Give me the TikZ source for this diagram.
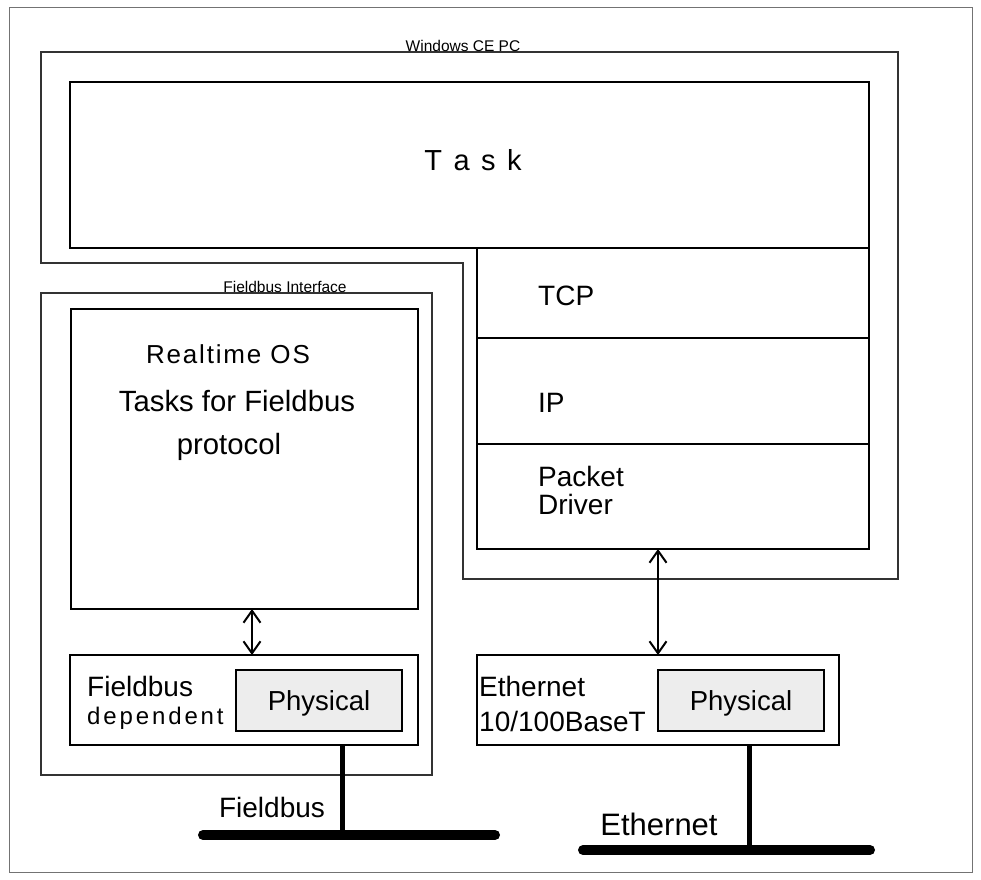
\documentclass[tikz,border=0pt]{standalone}
\usepackage{fontspec}
\setmainfont{Liberation Sans}
\usetikzlibrary{arrows.meta}
\begin{document}
\begin{tikzpicture}[x=1pt,y=-1pt,
  outline/.style={draw=black!55, line width=1pt},
  frame/.style={draw=black!80, line width=1.2pt},
  layer/.style={draw=black, line width=2pt, anchor=north west, inner sep=0pt, outer sep=0pt},
  physbox/.style={layer, fill=black!7},
  lbl/.style={inner sep=0pt, anchor=base, font=\fontsize{28}{28}\selectfont},
  lbll/.style={lbl, anchor=base west},
  small/.style={inner sep=0pt, anchor=base, font=\fontsize{15.5}{16}\selectfont},
  bus/.style={line width=10pt, line cap=round},
  tap/.style={line width=5pt},
  barb/.tip={Straight Barb[length=12pt,width=17pt,line width=2pt]},
  link/.style={line width=1.1pt, {barb}-{barb}}
]
\useasboundingbox (0,0) rectangle (981,879);

% page frame
\draw[outline] (9,7) rectangle (972,872);

% Windows CE PC enclosure
\draw[frame] (41,52) -- (898,52) -- (898,579) -- (463,579) -- (463,263) -- (41,263) -- cycle;
\node[small] (cepc) at (463,51) {Windows CE PC};

% Task and protocol stack
\node[layer, minimum width=799pt, minimum height=166pt] (task) at (70,82) {};
\node[lbl, font=\fontsize{29}{29}\selectfont\addfontfeatures{LetterSpace=12}] (tasktxt) at (473,170) {T a s k};
\node[layer, minimum width=392pt, minimum height=90pt] (tcp) at (477,248) {};
\node[layer, minimum width=392pt, minimum height=106pt] (ip) at (477,338) {};
\node[layer, minimum width=392pt, minimum height=105pt] (pkt) at (477,444) {};
\node[lbll] (tcptxt) at (538,305) {TCP};
\node[lbll] (iptxt) at (538,412) {IP};
\node[lbll] (pkttxt) at (538,486) {Packet};
\node[lbll] (drvtxt) at (538,514) {Driver};

% Fieldbus interface enclosure
\draw[frame] (41,293) rectangle (432,775);
\node[small] (fbif) at (285,292) {Fieldbus Interface};
\node[layer, line width=2.5pt, minimum width=347pt, minimum height=300pt] (rtos) at (71,309) {};
\node[lbl, font=\fontsize{26}{26}\selectfont\addfontfeatures{LetterSpace=7}] (rtostxt) at (228,363) {Realtime OS};
\node[lbl, font=\fontsize{29.3}{29}\selectfont] (tasks1) at (237,411) {Tasks for Fieldbus};
\node[lbl, font=\fontsize{29.3}{29}\selectfont] (tasks2) at (229,454) {protocol};

% Fieldbus dependent layer
\node[layer, minimum width=348pt, minimum height=90pt] (fbdep) at (70,655) {};
\node[physbox, minimum width=166pt, minimum height=61pt] (fbphys) at (236,670) {};
\node[lbl, font=\fontsize{27.5}{28}\selectfont] (fbphystxt) at (fbphys.center |- 0,710) {Physical};
\node[lbll] (fbdeptxt1) at (87,696) {Fieldbus};
\node[lbll, font=\fontsize{24}{24}\selectfont\addfontfeatures{LetterSpace=12}] (fbdeptxt2) at (87,724) {dependent};

% Ethernet layer
\node[layer, minimum width=362pt, minimum height=90pt] (eth) at (477,655) {};
\node[physbox, minimum width=166pt, minimum height=61pt] (ethphys) at (658,670) {};
\node[lbl, font=\fontsize{27.5}{28}\selectfont] (ethphystxt) at (ethphys.center |- 0,710) {Physical};
\node[lbll] (ethtxt1) at (479,696) {Ethernet};
\node[lbll] (ethtxt2) at (479,731) {10/100BaseT};

% links between layers
\coordinate (fbx) at (252,0);
\coordinate (ethx) at (658,0);
\draw[link] (rtos.south -| fbx) -- (fbdep.north -| fbx);
\draw[link] (pkt.south -| ethx) -- (eth.north -| ethx);

% field buses
\coordinate (fbtap) at (342,835);
\coordinate (fbw) at (203,835);
\coordinate (fbe) at (495,835);
\draw[tap] (fbdep.south -| fbtap) -- (fbtap);
\draw[bus] (fbw) -- (fbe);
\node[lbl] (fblbl) at (272,817) {Fieldbus};

\coordinate (ethtap) at (749,850);
\coordinate (ethw) at (583,850);
\coordinate (ethe) at (870,850);
\draw[tap] (eth.south -| ethtap) -- (ethtap);
\draw[bus] (ethw) -- (ethe);
\node[lbl, font=\fontsize{31}{31}\selectfont] (ethlbl) at (659,835) {Ethernet};
\end{tikzpicture}
\end{document}
